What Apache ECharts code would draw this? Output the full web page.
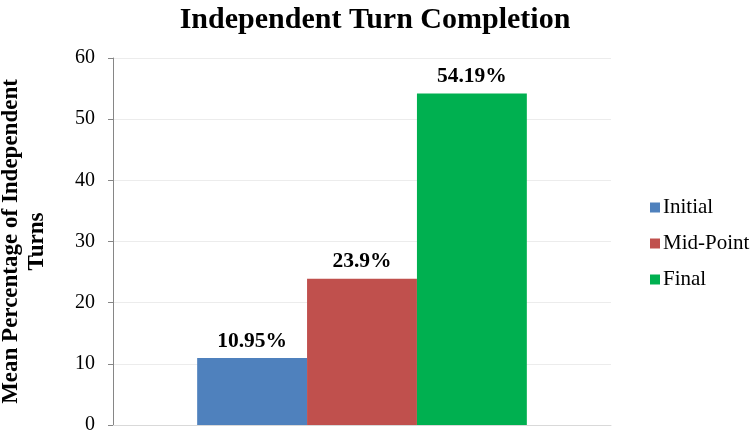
<!DOCTYPE html>
<html>
<head>
  <meta charset="utf-8" />
  <title>Independent Turn Completion</title>
  <script src="https://cdn.jsdelivr.net/npm/echarts@6/dist/echarts.min.js"></script>
  <style>
    html, body { margin: 0; padding: 0; background: #fff; }
    #main { width: 750px; height: 439px; }
  </style>
</head>
<body>
  <div id="main"></div>
  <script>
    // data
    var categories = [''];
    var seriesNames = ['Initial', 'Mid-Point', 'Final'];
    var seriesValues = [10.95, 23.9, 54.19];
    var valueLabels = ['10.95%', '23.9%', '54.19%'];
    var colors = ['#4F81BD', '#C0504D', '#00B050'];
    var yTicks = [0, 10, 20, 30, 40, 50, 60];

    var font = '"Liberation Serif", "Times New Roman", serif';

    var series = seriesNames.map(function (name, i) {
      return {
        name: name,
        type: 'bar',
        data: [seriesValues[i]],
        barGap: 0,
        barCategoryGap: '33.8%',
        itemStyle: { color: colors[i] },
        label: {
          show: true,
          position: 'top',
          distance: 6,
          formatter: valueLabels[i],
          fontFamily: font,
          fontWeight: 'bold',
          fontSize: 21.5,
          color: '#000'
        }
      };
    });

    var chart = echarts.init(document.getElementById('main'));
    chart.setOption({
      animation: false,
      textStyle: { fontFamily: font },
      title: {
        text: 'Independent Turn Completion',
        left: 'center',
        top: 0,
        textStyle: { fontFamily: font, fontWeight: 'bold', fontSize: 30, color: '#000' }
      },
      legend: {
        orient: 'vertical',
        left: 645,
        top: 192,
        itemWidth: 10,
        itemHeight: 10,
        itemGap: 15,
        icon: 'rect',
        textStyle: { fontFamily: font, fontSize: 21, color: '#000', padding: [0, 0, 0, -2] },
        data: seriesNames
      },
      grid: { left: 113, right: 139, top: 58, bottom: 14, containLabel: false, outerBoundsMode: 'none' },
      xAxis: {
        type: 'category',
        data: categories,
        axisLine: { lineStyle: { color: '#d9d9d9' } },
        axisTick: { show: false },
        axisLabel: { show: false }
      },
      yAxis: {
        type: 'value',
        min: yTicks[0],
        max: yTicks[yTicks.length - 1],
        interval: 10,
        name: 'Mean Percentage of Independent\nTurns',
        nameLocation: 'middle',
        nameGap: 63,
        nameTextStyle: { fontFamily: font, fontWeight: 'bold', fontSize: 23, color: '#000', lineHeight: 26 },
        axisLine: { show: true, lineStyle: { color: '#868686' } },
        axisTick: { show: true, length: 5, lineStyle: { color: '#868686' } },
        axisLabel: { fontFamily: font, fontSize: 20, color: '#000', margin: 18 },
        splitLine: { lineStyle: { color: '#ececec' } }
      },
      series: series
    });
  </script>
</body>
</html>
